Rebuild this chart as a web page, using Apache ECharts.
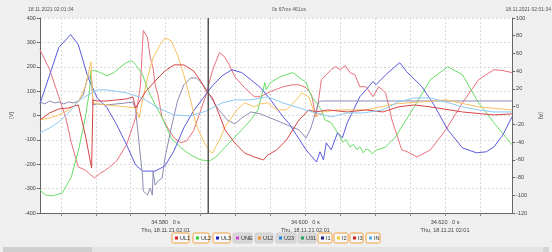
<!DOCTYPE html>
<html><head><meta charset="utf-8">
<script src="https://cdn.jsdelivr.net/npm/echarts@6/dist/echarts.min.js"></script>
<style>html,body{margin:0;padding:0;background:#efefef;}#c{width:552px;height:252px;}</style>
</head><body><div id="c"></div>
<script>
// time base: seconds; series times are ms after T0
const T0 = 34.560;
const X_MIN = 34.562, X_MAX = 34.6296;
const CURSOR_MS = 26.1;

// UL1 (V)
const ul1_t = [2.0,3.4,4.7,5.7,6.5,7.5,8.5,9.3,9.8,10.7,11.2,12.0,13.0,14.4,15.7,16.4,16.8,17.4,17.8,18.2,18.5,18.9,19.5,20.3,21.2,22.2,23.0,24.0,25.0,25.8,26.7,27.7,28.4,29.1,29.9,31.3,32.7,33.6,35.0,36.8,38.2,39.1,40.1,40.9,41.5,41.9,42.3,43.0,43.7,44.3,45.0,45.7,46.4,47.1,47.8,48.7,49.7,50.5,51.5,52.4,53.8,54.6,56.0,57.9,60.1,62.5,64.8,67.0,68.3,69.6];
const ul1_v = [270,188,77,-9,-112,-211,-224,-244,-256,-236,-228,-211,-186,-120,-9,126,349,320,237,196,126,85,-9,-51,-92,-112,-104,-63,19,85,184,258,242,209,159,114,77,77,98,118,126,126,114,85,-5,65,147,167,188,200,188,205,176,167,118,118,77,118,93,-18,-141,-149,-170,-141,-59,52,147,188,184,176];

// UL2 (V)
const ul2_t = [2.0,2.8,3.8,5.2,6.5,7.5,8.5,9.1,9.3,9.8,10.7,11.6,12.6,13.4,14.4,15.1,15.7,16.7,17.5,18.5,19.5,20.8,22.2,23.6,25.0,26.3,27.2,29.1,30.9,32.2,33.2,33.9,34.2,34.4,35.0,36.4,38.2,40.1,40.9,42.3,42.8,43.7,45.0,45.4,45.8,46.4,46.9,47.4,47.8,48.3,48.7,49.1,49.6,50.1,51.5,52.9,55.6,57.9,60.4,62.5,64.8,67.0,69.6];
const ul2_v = [-306,-326,-330,-318,-252,-145,-9,102,184,184,176,163,176,196,217,225,209,167,102,44,-9,-92,-133,-162,-182,-186,-170,-112,-59,-18,23,98,135,106,135,159,176,135,77,23,-18,-30,-88,-110,-98,-129,-118,-141,-128,-153,-138,-141,-158,-143,-129,-88,36,147,200,167,52,-30,-120];

// UL3 (V)
const ul3_t = [2.0,3.4,4.7,6.4,7.5,8.9,10.2,11.6,13.0,14.4,15.7,16.7,18.5,19.9,21.2,22.6,24.0,25.4,26.7,28.1,29.5,30.9,32.2,33.6,35.0,36.8,37.7,40.1,41.6,42.1,42.6,43.0,43.7,44.6,45.3,46.0,46.9,47.8,48.7,49.7,50.1,51.5,53.5,54.5,56.7,58.4,60.4,62.5,64.5,65.9,67.0,68.3,69.6];
const ul3_v = [48,167,279,332,291,155,73,32,-38,-120,-203,-228,-228,-207,-145,-51,19,73,122,163,188,176,147,114,65,-5,-34,-141,-191,-149,-182,-112,-141,-71,-92,-30,23,77,106,139,126,167,217,180,118,44,-59,-133,-153,-149,-129,-79,-5];

// I1 (A)
const i1_t = [2.0,2.7,3.4,4.1,4.7,5.4,6.1,6.8,7.5,8.2,8.9,9.1,9.4,9.6,10.2,11.6,13.0,14.4,15.3,15.7,16.3,16.7,16.8,17.4,17.8,18.1,18.2,18.5,18.9,19.5,19.9,20.8,21.7,22.6,23.6,24.4,25.4,26.3,27.4,28.8,29.9,30.9,32.2,33.6,35.0,36.4,37.7,39.1,40.1,40.8,41.5,41.9,42.3,69.6];
const i1_v = [5.3,3.1,6.4,4.2,5.3,3.1,5.3,4.2,6.4,13.2,35.9,38.1,30.2,1.9,3.1,1.9,3.1,4.2,5.3,-3.7,-48.9,-79.4,-95.3,-99.8,-91.9,-99.8,-72.7,-88.5,-84.0,-80.6,-58.0,-24.1,6.4,24.5,32.4,32.4,24.5,13.2,-1.5,-15.0,-19.5,-12.8,-6.0,-8.2,-12.8,-17.3,-21.8,-26.3,-35.4,-24.1,-6.0,5.3,6.4,6.4];

// I2 (A)
const i2_t = [2.0,3.4,4.7,6.1,7.5,8.6,9.3,9.6,10.2,11.6,13.0,14.4,15.7,16.2,16.7,17.4,18.2,19.2,19.9,20.8,21.7,22.6,23.6,24.4,25.4,26.3,26.7,27.7,28.5,29.5,30.2,31.3,32.7,33.6,34.6,35.9,37.3,38.7,39.5,40.5,41.5,42.6,44.6,48.7,52.9,60.1,64.8,69.6];
const i2_v = [-15.0,-12.8,-9.4,-3.7,5.3,24.5,50.5,4.2,3.1,1.9,0.8,-0.3,-1.5,-12.8,7.6,32.4,55.0,69.7,77.6,74.2,58.4,35.9,6.4,-20.7,-38.8,-50.1,-52.3,-37.6,-22.9,-11.6,-3.7,4.2,-0.3,3.1,4.2,-3.7,-3.7,7.6,15.5,11.0,-11.6,-6.0,-3.7,-3.7,3.1,7.6,-0.3,-3.7];

// I3 (A)
const i3_t = [2.0,3.4,4.7,6.1,7.5,8.5,9.4,9.6,10.2,11.6,13.0,14.4,15.3,15.7,16.4,17.1,18.5,19.9,21.2,22.6,24.0,25.0,25.8,26.7,27.7,28.5,29.9,31.3,32.7,34.0,34.6,35.9,37.3,39.1,40.5,41.5,43.2,46.0,48.7,51.1,53.3,55.6,57.9,62.5,67.0,69.6];
const i3_v = [-15.0,-7.1,-2.6,-1.5,1.9,-31.9,-69.3,7.6,6.4,6.4,7.6,8.7,11.0,-1.5,7.6,16.6,29.0,40.3,47.1,47.1,40.3,29.0,17.7,9.8,-9.4,-26.3,-41.0,-52.3,-56.8,-60.2,-54.6,-48.9,-37.6,-15.0,-3.7,-6.0,-3.7,-6.0,-3.7,-6.0,-0.3,1.9,-0.3,-6.0,-9.4,-8.2];

// IN (A)
const in_t = [2.0,3.4,4.7,6.1,7.5,8.9,10.2,11.6,14.4,16.7,18.9,21.2,23.6,25.8,28.1,29.9,32.2,34.6,36.8,39.1,41.5,43.7,46.0,48.3,51.1,53.3,55.6,57.9,60.1,62.5,64.8,67.0,69.6];
const in_v = [-29.7,-24.1,-17.3,-7.1,6.4,13.2,18.9,18.9,15.5,9.8,-1.5,-9.4,-10.5,-4.9,4.2,7.6,7.6,11.0,4.2,-1.5,-7.1,-11.6,-7.1,-7.1,-3.7,5.3,9.8,9.8,5.3,-0.3,-3.7,-6.0,-6.0];

const legendNames = ['UL1','UL2','UL3','UNE','U12','U23','U31','I1','I2','I3','IN'];
const legendDots = ['#e02020','#30d030','#2020c0','#d040d0','#f09030','#2080e0','#20a060','#202080','#f0d020','#d02020','#50b0f0'];
const legendOn = [1,1,1,0,0,0,0,1,1,1,1];
const legendX = [172,193,213,233,255,276,298,318,334,350,366];
const legendW = [17,16,17,19,18,20,18,14,14,13,14];

const topLeftText = '18.11.2021 02:01:34';
const topMidText = '0s 67ms 461us';
const topRightText = '18.11.2021 02:01:34';
const xLabelLine2 = 'Thu, 18.11.21 02:01';

function mk(t, v){ return t.map((ms,i)=>[T0+ms/1000, v[i]]); }
const FONT = 'Liberation Sans';

const seriesDefs = [
  {name:'UL1', t:ul1_t, v:ul1_v, axis:0, color:'#e8707a'},
  {name:'UL2', t:ul2_t, v:ul2_v, axis:0, color:'#66dd66'},
  {name:'UL3', t:ul3_t, v:ul3_v, axis:0, color:'#5a5ae0'},
  {name:'I1', t:i1_t, v:i1_v, axis:1, color:'#8c8cb4'},
  {name:'I2', t:i2_t, v:i2_v, axis:1, color:'#f8c060'},
  {name:'I3', t:i3_t, v:i3_v, axis:1, color:'#d64545'},
  {name:'IN', t:in_t, v:in_v, axis:1, color:'#8cc8f0'}
];

const series = seriesDefs.map((d)=>({
  name:d.name, type:'line', yAxisIndex:d.axis, data:mk(d.t,d.v),
  showSymbol:false, symbol:'none', animation:false,
  lineStyle:{width:1, color:d.color}, itemStyle:{color:d.color}
}));
// cursor line
series.push({name:'cursor', type:'line', yAxisIndex:0, showSymbol:false, symbol:'none', animation:false, silent:true,
  data:[[T0+CURSOR_MS/1000,-400],[T0+CURSOR_MS/1000,400]], lineStyle:{width:1.5, color:'#555'}, z:5});

const graphic = [];
graphic.push({type:'text', left:28, top:7, style:{text:topLeftText, font:'5px '+FONT, fill:'#555'}});
graphic.push({type:'text', left:272, top:7, style:{text:topMidText, font:'5px '+FONT, fill:'#555'}});
graphic.push({type:'text', right:1, top:7, style:{text:topRightText, font:'5px '+FONT, fill:'#555'}});
legendNames.forEach((n,i)=>{
  const x = legendX[i], w = legendW[i];
  graphic.push({type:'rect', shape:{x:x, y:233, width:w, height:10, r:1.5},
    style:{fill: legendOn[i] ? '#f7f7f7' : '#d8d8d8', stroke: legendOn[i] ? '#f2a03c' : '#cfcfcf', lineWidth:1}});
  graphic.push({type:'rect', shape:{x:x+3, y:236.5, width:3, height:3}, style:{fill:legendDots[i]}});
  graphic.push({type:'text', x:x+8, y:238, style:{text:n, font:'5.5px '+FONT, fill:'#333', textVerticalAlign:'middle'}});
});
graphic.push({type:'rect', shape:{x:92, y:247, width:451, height:5}, style:{fill:'#e4e4e4'}});
graphic.push({type:'rect', shape:{x:3, y:247, width:89, height:5}, style:{fill:'#cfcfcf'}});
graphic.push({type:'rect', shape:{x:543, y:247, width:6, height:5}, style:{fill:'#d4d4d4'}});

const chart = echarts.init(document.getElementById('c'), null, {renderer:'canvas'});
chart.setOption({
  backgroundColor:'#efefef',
  animation:false,
  grid:{left:30, right:30, top:18, bottom:39, show:true, backgroundColor:'#ffffff', borderWidth:0},
  xAxis:{type:'value', min:X_MIN, max:X_MAX, splitNumber:13,
    axisLine:{show:true, onZero:false, lineStyle:{color:'#666'}},
    axisTick:{show:true, length:3, lineStyle:{color:'#888'}},
    axisLabel:{fontSize:5.5, fontFamily:FONT, color:'#444', margin:5, lineHeight:8.5, showMinLabel:false, showMaxLabel:false,
      formatter:(v)=>{ const k=v*50; return Math.abs(k-Math.round(k))<1e-6 ? v.toFixed(3)+'   0 s\n'+xLabelLine2 : ''; }},
    splitLine:{show:true, lineStyle:{color:'#d8d8d8', type:[2,2], width:1}}
  },
  yAxis:[
    {type:'value', min:-400, max:400, interval:100, position:'left',
     name:'[V]', nameLocation:'middle', nameRotate:90, nameGap:19, nameTextStyle:{fontSize:5.5, fontFamily:FONT, color:'#444'},
     axisLine:{show:true, lineStyle:{color:'#666'}}, axisTick:{show:true, length:3, lineStyle:{color:'#666'}},
     axisLabel:{fontSize:5.5, fontFamily:FONT, color:'#444', margin:4},
     splitLine:{show:true, lineStyle:{color:'#d8d8d8', type:[2,2], width:1}}},
    {type:'value', min:-120, max:100, interval:20, position:'right',
     name:'[A]', nameLocation:'middle', nameRotate:-90, nameGap:7, nameTextStyle:{fontSize:5.5, fontFamily:FONT, color:'#444'},
     axisLine:{show:true, lineStyle:{color:'#666'}}, axisTick:{show:true, length:3, lineStyle:{color:'#666'}},
     axisLabel:{fontSize:5.5, fontFamily:FONT, color:'#444', margin:4},
     splitLine:{show:false}}
  ],
  series: series,
  graphic: graphic
});
</script></body></html>
